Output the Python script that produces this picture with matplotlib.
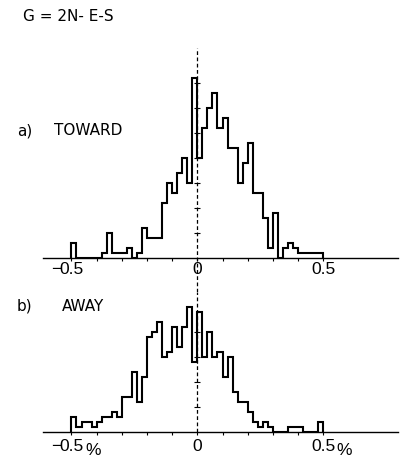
import matplotlib
matplotlib.use('Agg')
import matplotlib.pyplot as plt
import matplotlib.transforms as mtransforms
import numpy as np

# histogram bins of 0.02 % from -0.50 to +0.50
bin_edges = np.round(np.arange(-0.50, 0.5001, 0.02), 2)

# a) TOWARD
toward = [3, 0, 0, 0, 0, 0, 1, 5, 1, 1,
          1, 2, 0, 1, 6, 4, 4, 4, 11, 15,
          13, 17, 20, 15, 36, 20, 26, 30, 33, 26,
          28, 22, 22, 15, 19, 23, 13, 13, 8, 2,
          9, 0, 2, 3, 2, 1, 1, 1, 1, 1]

# b) AWAY
away = [3, 1, 2, 2, 1, 2, 3, 3, 4, 3,
        7, 7, 12, 6, 11, 19, 20, 22, 15, 16,
        21, 17, 21, 25, 14, 24, 15, 20, 15, 16,
        11, 15, 8, 6, 6, 4, 2, 1, 2, 1,
        0, 0, 0, 1, 1, 1, 0, 0, 0, 2]

tick_pos = np.round(np.arange(-0.5, 0.51, 0.1), 1)
label_pos = [-0.5, 0, 0.5]
label_txt = ['−0.5', '0', '0.5']
unit = '%'

W, H = 401, 461
fig = plt.figure(figsize=(W / 100, H / 100), dpi=100)


def rect(left, top, right, bottom):
    return [left / W, 1 - bottom / H, (right - left) / W, (bottom - top) / H]


ax1 = fig.add_axes(rect(43, 48.3, 398, 258.3))
ax2 = fig.add_axes(rect(43, 292.3, 398, 432.3))

numfont = dict(family=['Liberation Sans Narrow', 'Liberation Sans', 'DejaVu Sans'], size=12.5)
txtfont = dict(family='DejaVu Sans', size=11)

for ax, vals, ymax, off, with_unit in ((ax1, toward, 42, 3.0, False),
                                       (ax2, away, 28, 5.0, True)):
    ax.stairs(vals, bin_edges, color='black', lw=1.5, baseline=0)
    ax.set_xlim(-0.613, 0.797)
    ax.set_ylim(0, ymax)
    for s in ('top', 'left', 'right'):
        ax.spines[s].set_visible(False)
    ax.spines['bottom'].set_linewidth(1.0)
    ax.set_yticks([])
    ax.set_xticks(tick_pos)
    ax.set_xticklabels([])
    ax.tick_params(axis='x', direction='out', length=2.5, width=0.8)

    # little cross marks on the zero line every 5 counts
    ys = np.arange(5, ymax - 4, 5)
    ax.plot(np.zeros(len(ys)), ys, ls='none', marker='_', ms=5, mew=0.8, color='black')

    blend = mtransforms.blended_transform_factory(ax.transData, ax.transAxes)
    for x, lab in zip(label_pos, label_txt):
        num = lab.lstrip('−')
        ax.annotate(num, xy=(x, 0), xycoords=blend, xytext=(0, -off),
                    textcoords='offset points', ha='center', va='top', **numfont)
        half = 7.2 if len(num) > 1 else 0
        if lab.startswith('−'):
            ax.annotate('−', xy=(x, 0), xycoords=blend, xytext=(-half - 0.5, -off),
                        textcoords='offset points', ha='right', va='top', **numfont)
        if with_unit and x != 0:
            ax.annotate(unit, xy=(x, 0), xycoords=blend, xytext=(half + 2.5, -off - 3),
                        textcoords='offset points', ha='left', va='top', **numfont)

# dashed zero line, running from above the top panel down through the lower one
ax1.plot([0, 0], [-6.8, 42], color='black', lw=0.9, ls=(0, (3, 2)), clip_on=False)
ax2.plot([0, 0], [0, 28], color='black', lw=0.9, ls=(0, (3, 2)), clip_on=False)

fig.text(23 / W, 1 - 21 / H, 'G = 2N- E-S', ha='left', va='baseline', **txtfont)
fig.text(17 / W, 1 - 135 / H, 'a)', ha='left', va='baseline', **txtfont)
fig.text(54 / W, 1 - 135 / H, 'TOWARD', ha='left', va='baseline', **txtfont)
fig.text(17 / W, 1 - 310.7 / H, 'b)', ha='left', va='baseline', **txtfont)
fig.text(62 / W, 1 - 310.7 / H, 'AWAY', ha='left', va='baseline', **txtfont)

fig.savefig('out.png', dpi=100)
